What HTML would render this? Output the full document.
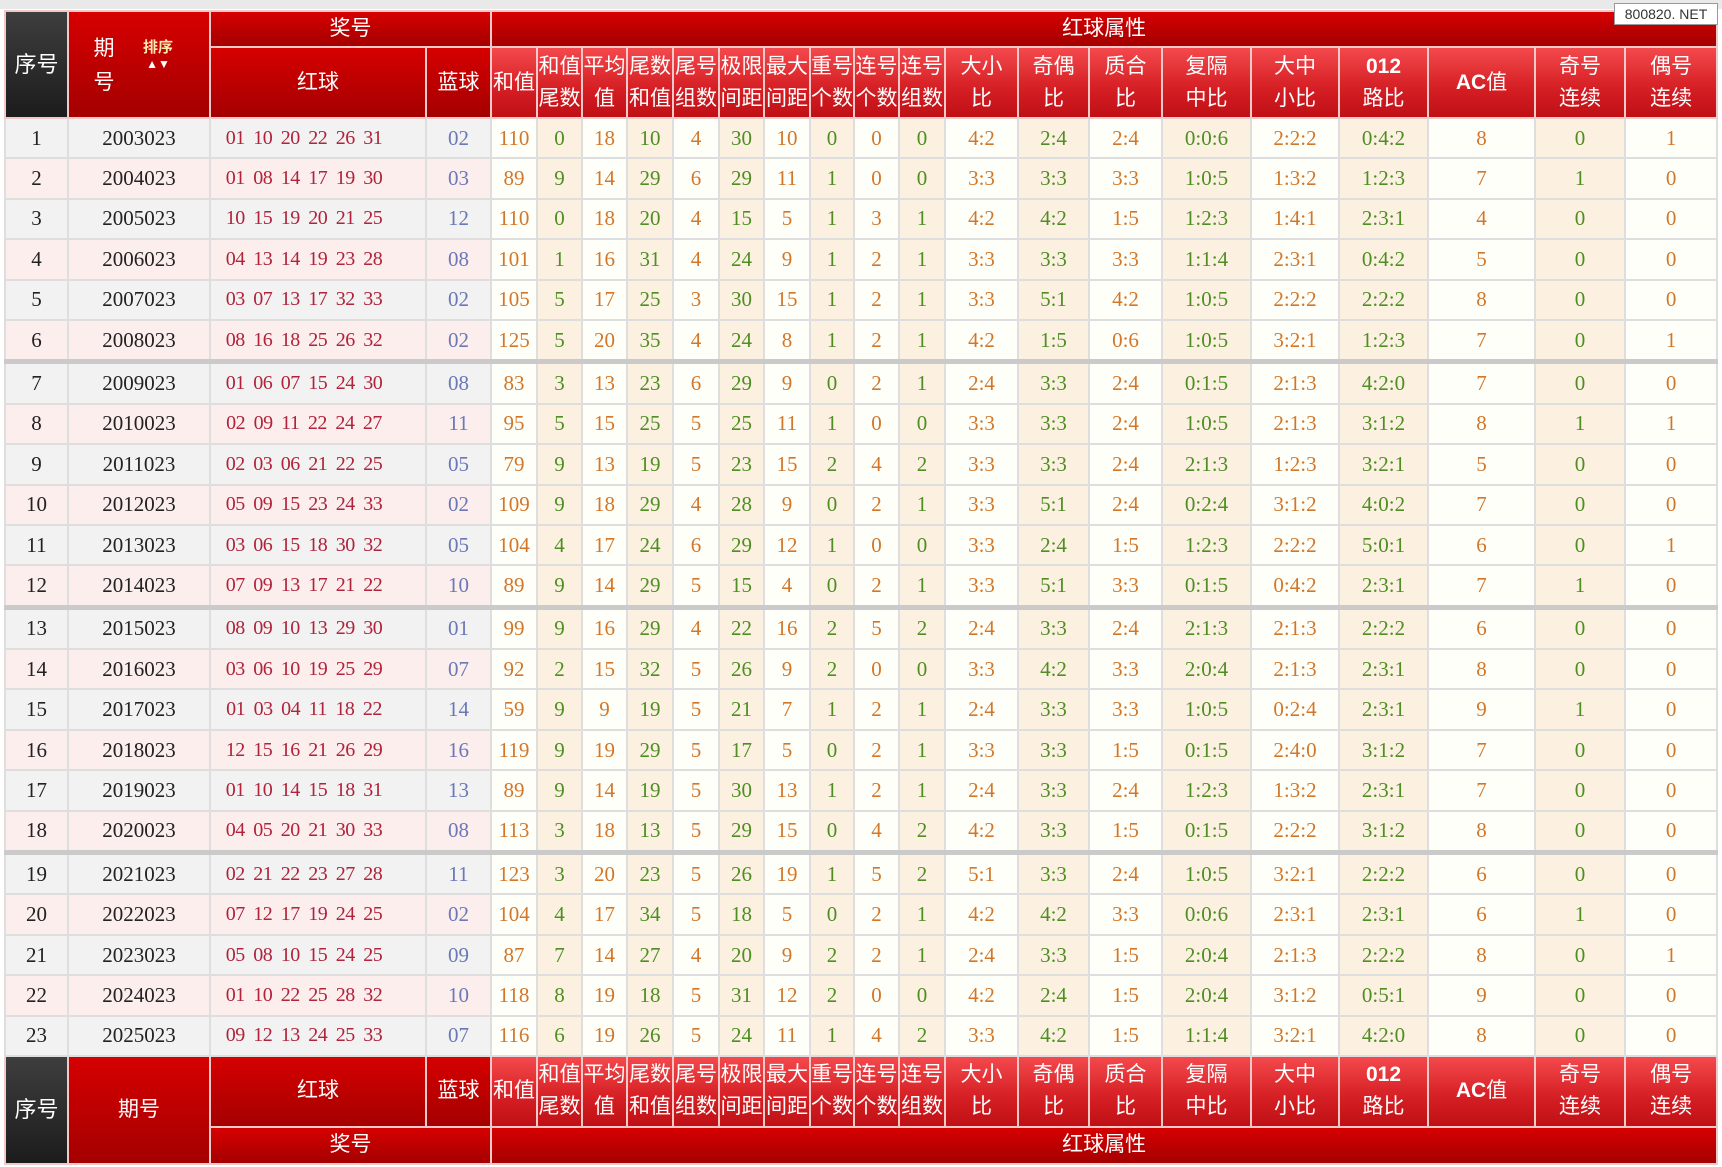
<!DOCTYPE html>
<html><head><meta charset="utf-8">
<style>
html,body{margin:0;padding:0;background:#fff;width:1722px;height:1167px;overflow:hidden;position:relative}
.topband{position:absolute;left:0;top:0;width:1722px;height:9px;background:#e9e9e9}
.wm{position:absolute;left:1614px;top:3px;width:102px;height:20px;background:#fff;border:1px solid #999;font:14px "Liberation Sans",sans-serif;color:#333;text-align:center;line-height:20px;z-index:3;white-space:nowrap}
table{position:absolute;left:4px;top:10px;border-collapse:collapse;table-layout:fixed;width:1712px}
td,th{padding:0;text-align:center;overflow:hidden;white-space:nowrap}
th{color:#fff;font:21px "Liberation Sans","Noto Sans CJK SC",sans-serif;font-weight:normal;border:2px solid #f1c9c9;line-height:32px}
th.k{background:linear-gradient(#d60000,#a40000)}
th.a{background:linear-gradient(#f4494d,#d41e23 60%,#bf1016)}
th.g{background:linear-gradient(#3e3e3e,#1c1c1c);font-size:22px}
th.n{white-space:normal;line-height:32px}
td{font:21px "Liberation Serif","Noto Serif CJK SC",serif;border:2px solid #dedede;height:38.4px}
tr.o td.l{background:#f2f2f2}
tr.e td.l{background:#fdeeee}
td.r{color:#b0233b;font-size:20px;letter-spacing:-0.5px;word-spacing:4px;padding-right:28px}
td.b{color:#6a78b8}
td.s{color:#222}
td.w{background:#fffff9}
td.y{background:#fcf1e1}
.O{color:#d2772a}
.G{color:#4e8e23}
tr.sep td{border-top:5px solid #cacaca}
</style></head><body>
<div class="topband"></div>
<div class="wm">800820. NET</div>
<table>
<colgroup>
<col style="width:63px"><col style="width:142px"><col style="width:216px"><col style="width:65px">
<col style="width:46px"><col style="width:45px"><col style="width:45px"><col style="width:46px"><col style="width:46px"><col style="width:45px"><col style="width:46px"><col style="width:44px"><col style="width:45px"><col style="width:46px">
<col style="width:73px"><col style="width:71px"><col style="width:73px"><col style="width:89px"><col style="width:88px"><col style="width:89px"><col style="width:107px"><col style="width:90px"><col style="width:92px">
</colgroup>
<tr style="height:36px">
<th class="g" rowspan="2">序号</th>
<th class="k" rowspan="2" style="position:relative"><div style="position:absolute;left:22px;top:20px;width:26px;line-height:34px;white-space:normal">期 号</div><div style="position:absolute;left:74px;top:28px;font-size:15px;font-weight:bold;color:#ffe7b0;line-height:16px">排序<br><span style="font-size:12px;color:#fff">▲▼</span></div></th>
<th class="k" colspan="2">奖号</th>
<th class="k" colspan="19">红球属性</th>
</tr>
<tr style="height:71px">
<th class="k">红球</th><th class="k">蓝球</th>
<th class="a">和值</th><th class="a n">和值 尾数</th><th class="a n">平均 值</th><th class="a n">尾数 和值</th><th class="a n">尾号 组数</th><th class="a n">极限 间距</th><th class="a n">最大 间距</th><th class="a n">重号 个数</th><th class="a n">连号 个数</th><th class="a n">连号 组数</th><th class="a n">大小<br>比</th><th class="a n">奇偶<br>比</th><th class="a n">质合<br>比</th><th class="a n">复隔<br>中比</th><th class="a n">大中<br>小比</th><th class="a n"><b>012</b><br>路比</th><th class="a"><b>AC</b>值</th><th class="a n">奇号<br>连续</th><th class="a n">偶号<br>连续</th>
</tr>
<tr class="o"><td class="l s">1</td><td class="l s">2003023</td><td class="l r">01 10 20 22 26 31</td><td class="l b">02</td><td class="w O">110</td><td class="y G">0</td><td class="w O">18</td><td class="y G">10</td><td class="w O">4</td><td class="y G">30</td><td class="w O">10</td><td class="y G">0</td><td class="w O">0</td><td class="y G">0</td><td class="w O">4:2</td><td class="y G">2:4</td><td class="w O">2:4</td><td class="y G">0:0:6</td><td class="w O">2:2:2</td><td class="y G">0:4:2</td><td class="w O">8</td><td class="y G">0</td><td class="w O">1</td></tr>
<tr class="e"><td class="l s">2</td><td class="l s">2004023</td><td class="l r">01 08 14 17 19 30</td><td class="l b">03</td><td class="w O">89</td><td class="y G">9</td><td class="w O">14</td><td class="y G">29</td><td class="w O">6</td><td class="y G">29</td><td class="w O">11</td><td class="y G">1</td><td class="w O">0</td><td class="y G">0</td><td class="w O">3:3</td><td class="y G">3:3</td><td class="w O">3:3</td><td class="y G">1:0:5</td><td class="w O">1:3:2</td><td class="y G">1:2:3</td><td class="w O">7</td><td class="y G">1</td><td class="w O">0</td></tr>
<tr class="o"><td class="l s">3</td><td class="l s">2005023</td><td class="l r">10 15 19 20 21 25</td><td class="l b">12</td><td class="w O">110</td><td class="y G">0</td><td class="w O">18</td><td class="y G">20</td><td class="w O">4</td><td class="y G">15</td><td class="w O">5</td><td class="y G">1</td><td class="w O">3</td><td class="y G">1</td><td class="w O">4:2</td><td class="y G">4:2</td><td class="w O">1:5</td><td class="y G">1:2:3</td><td class="w O">1:4:1</td><td class="y G">2:3:1</td><td class="w O">4</td><td class="y G">0</td><td class="w O">0</td></tr>
<tr class="e"><td class="l s">4</td><td class="l s">2006023</td><td class="l r">04 13 14 19 23 28</td><td class="l b">08</td><td class="w O">101</td><td class="y G">1</td><td class="w O">16</td><td class="y G">31</td><td class="w O">4</td><td class="y G">24</td><td class="w O">9</td><td class="y G">1</td><td class="w O">2</td><td class="y G">1</td><td class="w O">3:3</td><td class="y G">3:3</td><td class="w O">3:3</td><td class="y G">1:1:4</td><td class="w O">2:3:1</td><td class="y G">0:4:2</td><td class="w O">5</td><td class="y G">0</td><td class="w O">0</td></tr>
<tr class="o"><td class="l s">5</td><td class="l s">2007023</td><td class="l r">03 07 13 17 32 33</td><td class="l b">02</td><td class="w O">105</td><td class="y G">5</td><td class="w O">17</td><td class="y G">25</td><td class="w O">3</td><td class="y G">30</td><td class="w O">15</td><td class="y G">1</td><td class="w O">2</td><td class="y G">1</td><td class="w O">3:3</td><td class="y G">5:1</td><td class="w O">4:2</td><td class="y G">1:0:5</td><td class="w O">2:2:2</td><td class="y G">2:2:2</td><td class="w O">8</td><td class="y G">0</td><td class="w O">0</td></tr>
<tr class="e"><td class="l s">6</td><td class="l s">2008023</td><td class="l r">08 16 18 25 26 32</td><td class="l b">02</td><td class="w O">125</td><td class="y G">5</td><td class="w O">20</td><td class="y G">35</td><td class="w O">4</td><td class="y G">24</td><td class="w O">8</td><td class="y G">1</td><td class="w O">2</td><td class="y G">1</td><td class="w O">4:2</td><td class="y G">1:5</td><td class="w O">0:6</td><td class="y G">1:0:5</td><td class="w O">3:2:1</td><td class="y G">1:2:3</td><td class="w O">7</td><td class="y G">0</td><td class="w O">1</td></tr>
<tr class="o sep"><td class="l s">7</td><td class="l s">2009023</td><td class="l r">01 06 07 15 24 30</td><td class="l b">08</td><td class="w O">83</td><td class="y G">3</td><td class="w O">13</td><td class="y G">23</td><td class="w O">6</td><td class="y G">29</td><td class="w O">9</td><td class="y G">0</td><td class="w O">2</td><td class="y G">1</td><td class="w O">2:4</td><td class="y G">3:3</td><td class="w O">2:4</td><td class="y G">0:1:5</td><td class="w O">2:1:3</td><td class="y G">4:2:0</td><td class="w O">7</td><td class="y G">0</td><td class="w O">0</td></tr>
<tr class="e"><td class="l s">8</td><td class="l s">2010023</td><td class="l r">02 09 11 22 24 27</td><td class="l b">11</td><td class="w O">95</td><td class="y G">5</td><td class="w O">15</td><td class="y G">25</td><td class="w O">5</td><td class="y G">25</td><td class="w O">11</td><td class="y G">1</td><td class="w O">0</td><td class="y G">0</td><td class="w O">3:3</td><td class="y G">3:3</td><td class="w O">2:4</td><td class="y G">1:0:5</td><td class="w O">2:1:3</td><td class="y G">3:1:2</td><td class="w O">8</td><td class="y G">1</td><td class="w O">1</td></tr>
<tr class="o"><td class="l s">9</td><td class="l s">2011023</td><td class="l r">02 03 06 21 22 25</td><td class="l b">05</td><td class="w O">79</td><td class="y G">9</td><td class="w O">13</td><td class="y G">19</td><td class="w O">5</td><td class="y G">23</td><td class="w O">15</td><td class="y G">2</td><td class="w O">4</td><td class="y G">2</td><td class="w O">3:3</td><td class="y G">3:3</td><td class="w O">2:4</td><td class="y G">2:1:3</td><td class="w O">1:2:3</td><td class="y G">3:2:1</td><td class="w O">5</td><td class="y G">0</td><td class="w O">0</td></tr>
<tr class="e"><td class="l s">10</td><td class="l s">2012023</td><td class="l r">05 09 15 23 24 33</td><td class="l b">02</td><td class="w O">109</td><td class="y G">9</td><td class="w O">18</td><td class="y G">29</td><td class="w O">4</td><td class="y G">28</td><td class="w O">9</td><td class="y G">0</td><td class="w O">2</td><td class="y G">1</td><td class="w O">3:3</td><td class="y G">5:1</td><td class="w O">2:4</td><td class="y G">0:2:4</td><td class="w O">3:1:2</td><td class="y G">4:0:2</td><td class="w O">7</td><td class="y G">0</td><td class="w O">0</td></tr>
<tr class="o"><td class="l s">11</td><td class="l s">2013023</td><td class="l r">03 06 15 18 30 32</td><td class="l b">05</td><td class="w O">104</td><td class="y G">4</td><td class="w O">17</td><td class="y G">24</td><td class="w O">6</td><td class="y G">29</td><td class="w O">12</td><td class="y G">1</td><td class="w O">0</td><td class="y G">0</td><td class="w O">3:3</td><td class="y G">2:4</td><td class="w O">1:5</td><td class="y G">1:2:3</td><td class="w O">2:2:2</td><td class="y G">5:0:1</td><td class="w O">6</td><td class="y G">0</td><td class="w O">1</td></tr>
<tr class="e"><td class="l s">12</td><td class="l s">2014023</td><td class="l r">07 09 13 17 21 22</td><td class="l b">10</td><td class="w O">89</td><td class="y G">9</td><td class="w O">14</td><td class="y G">29</td><td class="w O">5</td><td class="y G">15</td><td class="w O">4</td><td class="y G">0</td><td class="w O">2</td><td class="y G">1</td><td class="w O">3:3</td><td class="y G">5:1</td><td class="w O">3:3</td><td class="y G">0:1:5</td><td class="w O">0:4:2</td><td class="y G">2:3:1</td><td class="w O">7</td><td class="y G">1</td><td class="w O">0</td></tr>
<tr class="o sep"><td class="l s">13</td><td class="l s">2015023</td><td class="l r">08 09 10 13 29 30</td><td class="l b">01</td><td class="w O">99</td><td class="y G">9</td><td class="w O">16</td><td class="y G">29</td><td class="w O">4</td><td class="y G">22</td><td class="w O">16</td><td class="y G">2</td><td class="w O">5</td><td class="y G">2</td><td class="w O">2:4</td><td class="y G">3:3</td><td class="w O">2:4</td><td class="y G">2:1:3</td><td class="w O">2:1:3</td><td class="y G">2:2:2</td><td class="w O">6</td><td class="y G">0</td><td class="w O">0</td></tr>
<tr class="e"><td class="l s">14</td><td class="l s">2016023</td><td class="l r">03 06 10 19 25 29</td><td class="l b">07</td><td class="w O">92</td><td class="y G">2</td><td class="w O">15</td><td class="y G">32</td><td class="w O">5</td><td class="y G">26</td><td class="w O">9</td><td class="y G">2</td><td class="w O">0</td><td class="y G">0</td><td class="w O">3:3</td><td class="y G">4:2</td><td class="w O">3:3</td><td class="y G">2:0:4</td><td class="w O">2:1:3</td><td class="y G">2:3:1</td><td class="w O">8</td><td class="y G">0</td><td class="w O">0</td></tr>
<tr class="o"><td class="l s">15</td><td class="l s">2017023</td><td class="l r">01 03 04 11 18 22</td><td class="l b">14</td><td class="w O">59</td><td class="y G">9</td><td class="w O">9</td><td class="y G">19</td><td class="w O">5</td><td class="y G">21</td><td class="w O">7</td><td class="y G">1</td><td class="w O">2</td><td class="y G">1</td><td class="w O">2:4</td><td class="y G">3:3</td><td class="w O">3:3</td><td class="y G">1:0:5</td><td class="w O">0:2:4</td><td class="y G">2:3:1</td><td class="w O">9</td><td class="y G">1</td><td class="w O">0</td></tr>
<tr class="e"><td class="l s">16</td><td class="l s">2018023</td><td class="l r">12 15 16 21 26 29</td><td class="l b">16</td><td class="w O">119</td><td class="y G">9</td><td class="w O">19</td><td class="y G">29</td><td class="w O">5</td><td class="y G">17</td><td class="w O">5</td><td class="y G">0</td><td class="w O">2</td><td class="y G">1</td><td class="w O">3:3</td><td class="y G">3:3</td><td class="w O">1:5</td><td class="y G">0:1:5</td><td class="w O">2:4:0</td><td class="y G">3:1:2</td><td class="w O">7</td><td class="y G">0</td><td class="w O">0</td></tr>
<tr class="o"><td class="l s">17</td><td class="l s">2019023</td><td class="l r">01 10 14 15 18 31</td><td class="l b">13</td><td class="w O">89</td><td class="y G">9</td><td class="w O">14</td><td class="y G">19</td><td class="w O">5</td><td class="y G">30</td><td class="w O">13</td><td class="y G">1</td><td class="w O">2</td><td class="y G">1</td><td class="w O">2:4</td><td class="y G">3:3</td><td class="w O">2:4</td><td class="y G">1:2:3</td><td class="w O">1:3:2</td><td class="y G">2:3:1</td><td class="w O">7</td><td class="y G">0</td><td class="w O">0</td></tr>
<tr class="e"><td class="l s">18</td><td class="l s">2020023</td><td class="l r">04 05 20 21 30 33</td><td class="l b">08</td><td class="w O">113</td><td class="y G">3</td><td class="w O">18</td><td class="y G">13</td><td class="w O">5</td><td class="y G">29</td><td class="w O">15</td><td class="y G">0</td><td class="w O">4</td><td class="y G">2</td><td class="w O">4:2</td><td class="y G">3:3</td><td class="w O">1:5</td><td class="y G">0:1:5</td><td class="w O">2:2:2</td><td class="y G">3:1:2</td><td class="w O">8</td><td class="y G">0</td><td class="w O">0</td></tr>
<tr class="o sep"><td class="l s">19</td><td class="l s">2021023</td><td class="l r">02 21 22 23 27 28</td><td class="l b">11</td><td class="w O">123</td><td class="y G">3</td><td class="w O">20</td><td class="y G">23</td><td class="w O">5</td><td class="y G">26</td><td class="w O">19</td><td class="y G">1</td><td class="w O">5</td><td class="y G">2</td><td class="w O">5:1</td><td class="y G">3:3</td><td class="w O">2:4</td><td class="y G">1:0:5</td><td class="w O">3:2:1</td><td class="y G">2:2:2</td><td class="w O">6</td><td class="y G">0</td><td class="w O">0</td></tr>
<tr class="e"><td class="l s">20</td><td class="l s">2022023</td><td class="l r">07 12 17 19 24 25</td><td class="l b">02</td><td class="w O">104</td><td class="y G">4</td><td class="w O">17</td><td class="y G">34</td><td class="w O">5</td><td class="y G">18</td><td class="w O">5</td><td class="y G">0</td><td class="w O">2</td><td class="y G">1</td><td class="w O">4:2</td><td class="y G">4:2</td><td class="w O">3:3</td><td class="y G">0:0:6</td><td class="w O">2:3:1</td><td class="y G">2:3:1</td><td class="w O">6</td><td class="y G">1</td><td class="w O">0</td></tr>
<tr class="o"><td class="l s">21</td><td class="l s">2023023</td><td class="l r">05 08 10 15 24 25</td><td class="l b">09</td><td class="w O">87</td><td class="y G">7</td><td class="w O">14</td><td class="y G">27</td><td class="w O">4</td><td class="y G">20</td><td class="w O">9</td><td class="y G">2</td><td class="w O">2</td><td class="y G">1</td><td class="w O">2:4</td><td class="y G">3:3</td><td class="w O">1:5</td><td class="y G">2:0:4</td><td class="w O">2:1:3</td><td class="y G">2:2:2</td><td class="w O">8</td><td class="y G">0</td><td class="w O">1</td></tr>
<tr class="e"><td class="l s">22</td><td class="l s">2024023</td><td class="l r">01 10 22 25 28 32</td><td class="l b">10</td><td class="w O">118</td><td class="y G">8</td><td class="w O">19</td><td class="y G">18</td><td class="w O">5</td><td class="y G">31</td><td class="w O">12</td><td class="y G">2</td><td class="w O">0</td><td class="y G">0</td><td class="w O">4:2</td><td class="y G">2:4</td><td class="w O">1:5</td><td class="y G">2:0:4</td><td class="w O">3:1:2</td><td class="y G">0:5:1</td><td class="w O">9</td><td class="y G">0</td><td class="w O">0</td></tr>
<tr class="o"><td class="l s">23</td><td class="l s">2025023</td><td class="l r">09 12 13 24 25 33</td><td class="l b">07</td><td class="w O">116</td><td class="y G">6</td><td class="w O">19</td><td class="y G">26</td><td class="w O">5</td><td class="y G">24</td><td class="w O">11</td><td class="y G">1</td><td class="w O">4</td><td class="y G">2</td><td class="w O">3:3</td><td class="y G">4:2</td><td class="w O">1:5</td><td class="y G">1:1:4</td><td class="w O">3:2:1</td><td class="y G">4:2:0</td><td class="w O">8</td><td class="y G">0</td><td class="w O">0</td></tr>
<tr style="height:71px">
<th class="g" rowspan="2">序号</th>
<th class="k" rowspan="2">期号</th>
<th class="k">红球</th><th class="k">蓝球</th>
<th class="a">和值</th><th class="a n">和值 尾数</th><th class="a n">平均 值</th><th class="a n">尾数 和值</th><th class="a n">尾号 组数</th><th class="a n">极限 间距</th><th class="a n">最大 间距</th><th class="a n">重号 个数</th><th class="a n">连号 个数</th><th class="a n">连号 组数</th><th class="a n">大小<br>比</th><th class="a n">奇偶<br>比</th><th class="a n">质合<br>比</th><th class="a n">复隔<br>中比</th><th class="a n">大中<br>小比</th><th class="a n"><b>012</b><br>路比</th><th class="a"><b>AC</b>值</th><th class="a n">奇号<br>连续</th><th class="a n">偶号<br>连续</th>
</tr>
<tr style="height:37px">
<th class="k" colspan="2">奖号</th>
<th class="k" colspan="19">红球属性</th>
</tr>
</table>
</body></html>
